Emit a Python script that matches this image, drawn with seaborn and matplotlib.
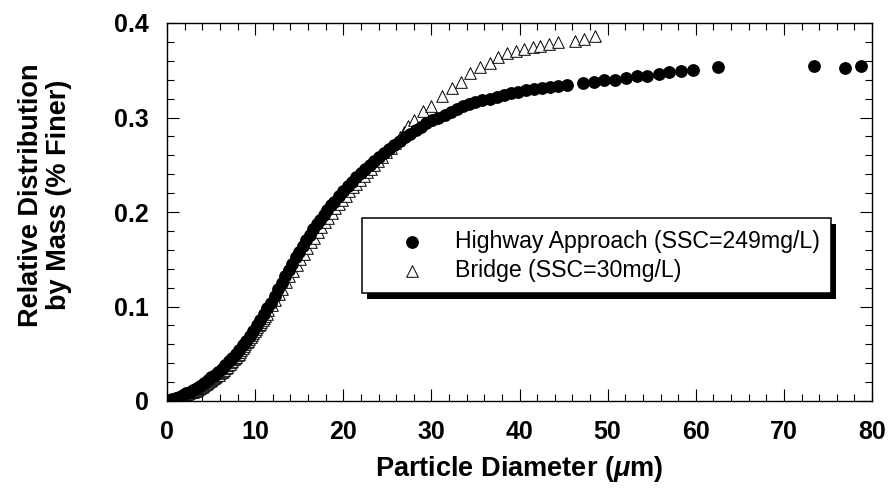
import matplotlib
matplotlib.use("Agg")
import matplotlib.pyplot as plt
from matplotlib.patches import Rectangle
from matplotlib.ticker import MultipleLocator, FixedLocator, FixedFormatter
import seaborn as sns

# Highway approach runoff (SSC = 249 mg/L)
highway_d = [0.3, 0.6, 1.0, 1.4, 1.8, 2.2, 2.6, 3.0, 3.4, 3.8, 4.2, 4.6, 5.0, 5.4, 5.8,
             6.2, 6.6, 7.0, 7.4, 7.8, 8.2, 8.6, 9.0, 9.4, 9.8, 10.2, 10.6, 11.0, 11.4,
             11.8, 12.2, 12.6, 13.0, 13.4, 13.8, 14.2, 14.6, 15.0, 15.4, 15.8, 16.2,
             16.6, 17.0, 17.4, 17.8, 18.2, 18.6, 19.0, 19.5, 20.0, 20.5, 21.0, 21.5,
             22.0, 22.5, 23.0, 23.5, 24.0, 24.6, 25.2, 25.8, 26.4, 27.0, 27.6, 28.2,
             28.8, 29.4, 30.1, 30.8, 31.5, 32.2, 32.9, 33.6, 34.3, 35.0, 35.8, 36.6,
             37.4, 38.2, 39.0, 39.8, 40.7, 41.6, 42.5, 43.5, 44.4, 45.4, 47.2, 48.4,
             49.6, 50.8, 52.1, 53.3, 54.5, 55.8, 57.0, 58.3, 59.7, 62.5, 73.4, 76.9, 78.7]
highway_f = [0.001, 0.002, 0.003, 0.004, 0.006, 0.008, 0.010, 0.012, 0.014, 0.016, 0.019,
             0.022, 0.025, 0.028, 0.031, 0.034, 0.038, 0.042, 0.046, 0.050, 0.054, 0.059,
             0.064, 0.069, 0.074, 0.080, 0.086, 0.092, 0.098, 0.104, 0.111, 0.118, 0.125,
             0.132, 0.139, 0.145, 0.152, 0.158, 0.164, 0.170, 0.176, 0.182, 0.187, 0.192,
             0.197, 0.202, 0.207, 0.211, 0.217, 0.222, 0.227, 0.232, 0.237, 0.241, 0.246,
             0.250, 0.254, 0.258, 0.262, 0.267, 0.271, 0.275, 0.279, 0.283, 0.287, 0.290,
             0.294, 0.297, 0.300, 0.303, 0.306, 0.309, 0.312, 0.314, 0.316, 0.318, 0.320,
             0.322, 0.324, 0.326, 0.327, 0.329, 0.330, 0.331, 0.332, 0.333, 0.334, 0.336,
             0.338, 0.340, 0.340, 0.342, 0.344, 0.344, 0.346, 0.348, 0.349, 0.350, 0.353,
             0.354, 0.352, 0.354]

# Bridge deck runoff (SSC = 30 mg/L): fine channels below 11.5 um
bridge_fine_d = [0.2, 0.35, 0.5, 0.65, 0.8, 0.95, 1.1, 1.25, 1.4, 1.55, 1.7, 1.85, 2.0,
                 2.15, 2.3, 2.45, 2.6, 2.75, 2.9, 3.05, 3.2, 3.35, 3.5, 3.65, 3.8, 3.95,
                 4.1, 4.25, 4.4, 4.55, 4.7, 4.85, 5.0, 5.15, 5.3, 5.45, 5.6, 5.75, 5.9,
                 6.05, 6.2, 6.35, 6.5, 6.65, 6.8, 6.95, 7.1, 7.25, 7.4, 7.55, 7.7, 7.85,
                 8.0, 8.15, 8.3, 8.45, 8.6, 8.75, 8.9, 9.05, 9.2, 9.35, 9.5, 9.65, 9.8,
                 9.95, 10.1, 10.25, 10.4, 10.55, 10.7, 10.85, 11.0, 11.15, 11.3]
bridge_fine_f = [0.000, 0.001, 0.001, 0.002, 0.002, 0.003, 0.003, 0.003, 0.004, 0.004,
                 0.005, 0.005, 0.006, 0.007, 0.007, 0.008, 0.009, 0.009, 0.010, 0.011,
                 0.011, 0.012, 0.013, 0.014, 0.014, 0.015, 0.016, 0.017, 0.018, 0.019,
                 0.020, 0.021, 0.022, 0.023, 0.024, 0.025, 0.026, 0.027, 0.028, 0.030,
                 0.031, 0.032, 0.033, 0.035, 0.036, 0.038, 0.039, 0.041, 0.042, 0.044,
                 0.045, 0.047, 0.049, 0.050, 0.052, 0.054, 0.056, 0.058, 0.060, 0.062,
                 0.064, 0.066, 0.068, 0.070, 0.072, 0.074, 0.076, 0.078, 0.080, 0.082,
                 0.084, 0.086, 0.088, 0.090, 0.092]
# Bridge deck runoff: coarser channels
bridge_d = [11.5, 11.9, 12.3, 12.7, 13.1, 13.5, 13.9, 14.3, 14.7, 15.1, 15.5, 15.9, 16.3,
            16.7, 17.1, 17.5, 17.9, 18.3, 18.7, 19.1, 19.5, 19.9, 20.3, 20.7, 21.1,
            21.5, 21.9, 22.3, 22.7, 23.1, 23.5, 23.9, 24.4, 24.9, 25.4, 25.9, 26.4,
            26.9, 27.4, 28.0, 29.1, 30.0, 31.2, 32.3, 33.4, 34.4, 35.5, 36.6, 37.6,
            38.6, 39.6, 40.5, 41.5, 42.3, 43.4, 44.4, 46.3, 47.3, 48.6]
bridge_f = [0.096, 0.102, 0.107, 0.113, 0.119, 0.126, 0.132, 0.138, 0.144, 0.150, 0.156,
            0.162, 0.168, 0.173, 0.179, 0.184, 0.189, 0.194, 0.199, 0.204, 0.208, 0.213,
            0.217, 0.222, 0.226, 0.230, 0.234, 0.238, 0.242, 0.246, 0.250, 0.254, 0.258,
            0.263, 0.268, 0.273, 0.279, 0.285, 0.291, 0.297, 0.307, 0.312, 0.323, 0.331,
            0.338, 0.347, 0.353, 0.358, 0.364, 0.368, 0.370, 0.372, 0.375, 0.376, 0.378,
            0.380, 0.381, 0.383, 0.386]

series_labels = ["Highway Approach (SSC=249mg/L)", "Bridge (SSC=30mg/L)"]
x_ticks = [0, 10, 20, 30, 40, 50, 60, 70, 80]
y_ticks = [0.0, 0.1, 0.2, 0.3, 0.4]
y_tick_labels = ["0", "0.1", "0.2", "0.3", "0.4"]

sns.set_style("ticks")
plt.rcParams["font.family"] = ["Liberation Sans", "DejaVu Sans"]
plt.rcParams["mathtext.fontset"] = "custom"
plt.rcParams["mathtext.it"] = "Liberation Sans:italic:bold"
plt.rcParams["mathtext.rm"] = "Liberation Sans:bold"
for key in ("text.color", "axes.labelcolor", "xtick.color", "ytick.color",
            "axes.edgecolor"):
    plt.rcParams[key] = "black"

fig = plt.figure(figsize=(8.9, 4.91), dpi=100)
ax = fig.add_axes([167 / 890, 1 - 401 / 491, 705 / 890, 378 / 491])

sns.scatterplot(x=highway_d, y=highway_f, marker="o", s=85, color="black",
                edgecolor="black", linewidth=0, label=series_labels[0], ax=ax, zorder=3)
sns.scatterplot(x=bridge_fine_d + bridge_d, y=bridge_fine_f + bridge_f, marker="^",
                s=70, color="white", edgecolor="black", linewidth=0.7,
                label=series_labels[1], ax=ax, zorder=2)

ax.set_xlim(0, 80)
ax.set_ylim(0, 0.4)
ax.xaxis.set_major_locator(FixedLocator(x_ticks))
ax.xaxis.set_minor_locator(MultipleLocator(2))
ax.yaxis.set_major_locator(FixedLocator(y_ticks))
ax.yaxis.set_major_formatter(FixedFormatter(y_tick_labels))
ax.yaxis.set_minor_locator(MultipleLocator(0.02))

ax.tick_params(which="both", direction="in", top=True, right=True, color="black",
               labelcolor="black")
ax.tick_params(which="major", length=8.6, width=0.8)
ax.tick_params(which="minor", length=5, width=0.8)
ax.tick_params(axis="x", which="major", pad=13.5, labelsize=18)
ax.tick_params(axis="y", which="major", pad=13, labelsize=18)
for lab in ax.get_xticklabels() + ax.get_yticklabels():
    lab.set_fontweight("bold")

for sp in ax.spines.values():
    sp.set_visible(True)
    sp.set_color("black")
    sp.set_linewidth(1.0)

ax.set_xlabel(r"Particle Diameter ($\mu$m)", fontsize=19.5, fontweight="bold",
              color="black")
ax.set_ylabel("Relative Distribution\nby Mass (% Finer)", fontsize=19.5,
              fontweight="bold", linespacing=1.1, color="black")
ax.xaxis.set_label_coords(0.5, -0.14)
ax.yaxis.set_label_coords(-0.135, 0.545)

leg = ax.legend(loc="upper left", bbox_to_anchor=((362 - 167) / 705, (401 - 218) / 378),
                borderaxespad=0, fontsize=16.7, frameon=True, fancybox=False,
                borderpad=0.5, labelspacing=0.26, handlelength=3.3, handletextpad=0.2,
                markerscale=1.0)
for t in leg.get_texts():
    t.set_color("black")
frame = leg.get_frame()
frame.set_edgecolor("black")
frame.set_linewidth(1.1)
frame.set_facecolor("white")
frame.set_alpha(1)

# solid drop shadow offset to the lower right of the legend box
fig.canvas.draw()
bb = frame.get_window_extent()
dx, dy = 5, 6
x0, y0 = fig.transFigure.inverted().transform((bb.x0 + dx, bb.y0 - dy))
x1, y1 = fig.transFigure.inverted().transform((bb.x1 + dx, bb.y1 - dy))
ax.add_artist(Rectangle((x0, y0), x1 - x0, y1 - y0, transform=fig.transFigure,
                        facecolor="black", edgecolor="none", zorder=4.5, clip_on=False))

fig.savefig("out.png", dpi=100)
